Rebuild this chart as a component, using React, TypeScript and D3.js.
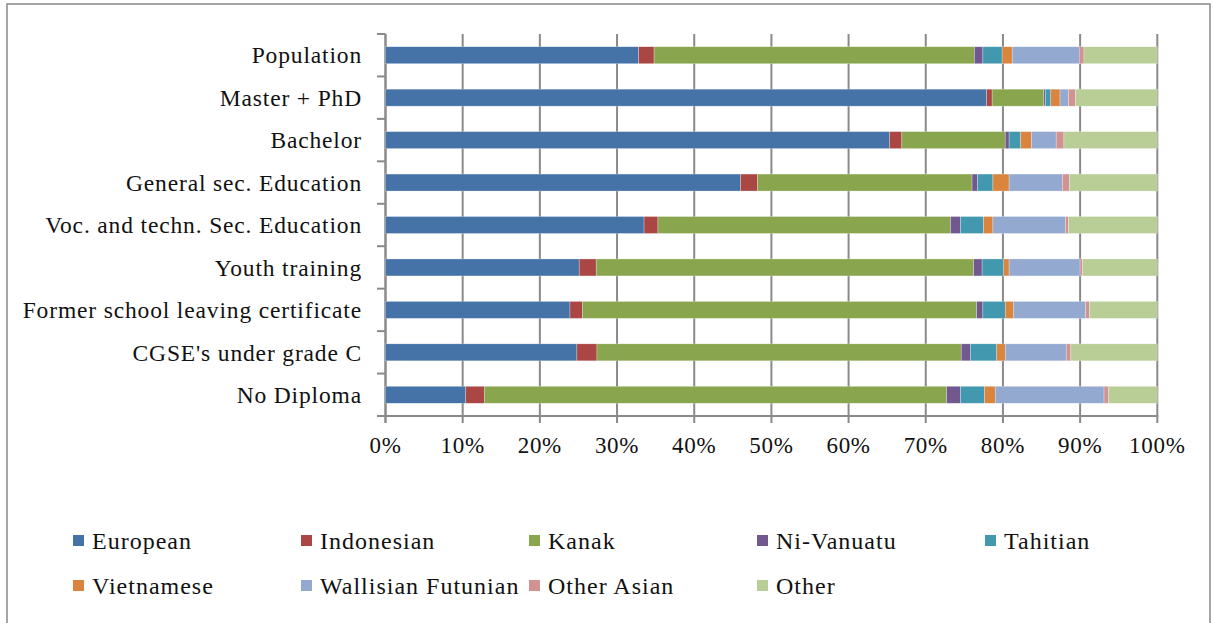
import React from "react";
import * as d3 from "d3";

const categories = [
  "Population",
  "Master + PhD",
  "Bachelor",
  "General sec. Education",
  "Voc. and techn. Sec. Education",
  "Youth training",
  "Former school leaving certificate",
  "CGSE's under grade C",
  "No Diploma",
];

const seriesNames = [
  "European",
  "Indonesian",
  "Kanak",
  "Ni-Vanuatu",
  "Tahitian",
  "Vietnamese",
  "Wallisian Futunian",
  "Other Asian",
  "Other",
];

const colors = [
  "#4572A7",
  "#AA4643",
  "#89A54E",
  "#71588F",
  "#4198AF",
  "#DB843D",
  "#93A9CF",
  "#D19392",
  "#B9CD96",
];

// values per category, in series order (percent)
const population = [32.8, 2.0, 41.5, 1.1, 2.5, 1.3, 8.7, 0.6, 9.5];
const masterPhd = [77.9, 0.7, 6.7, 0.2, 0.7, 1.2, 1.1, 0.9, 10.6];
const bachelor = [65.3, 1.6, 13.4, 0.5, 1.5, 1.4, 3.2, 1.0, 12.1];
const generalSec = [46.0, 2.2, 27.8, 0.7, 2.0, 2.1, 6.9, 0.9, 11.4];
const vocTechn = [33.5, 1.8, 37.9, 1.3, 3.0, 1.2, 9.4, 0.4, 11.5];
const youthTraining = [25.1, 2.2, 48.9, 1.1, 2.8, 0.7, 9.2, 0.3, 9.7];
const formerCert = [23.9, 1.6, 51.1, 0.8, 2.9, 1.1, 9.3, 0.5, 8.8];
const cgse = [24.8, 2.6, 47.2, 1.2, 3.4, 1.1, 7.9, 0.6, 11.2];
const noDiploma = [10.4, 2.4, 59.9, 1.8, 3.1, 1.4, 14.1, 0.6, 6.3];

const rows = [population, masterPhd, bachelor, generalSec, vocTechn, youthTraining, formerCert, cgse, noDiploma];

const xTicks = [0, 0.1, 0.2, 0.3, 0.4, 0.5, 0.6, 0.7, 0.8, 0.9, 1.0];

const FONT = "'Liberation Serif', 'Times New Roman', serif";
const GRID = "#8a8a8a";

export default function App() {
  const W = 1213;
  const H = 623;
  const x = d3.scaleLinear().domain([0, 1]).range([385.5, 1157.3]);
  const y = d3.scaleBand<string>().domain(categories).range([34, 416]).paddingInner(0.6).paddingOuter(0.3);
  const step = y.step();

  const table = categories.map((c, i) => {
    const o: Record<string, number | string> = { cat: c };
    const total = d3.sum(rows[i]);
    seriesNames.forEach((s, j) => (o[s] = rows[i][j] / total));
    return o;
  });
  const stack = d3.stack<any>().keys(seriesNames)(table);

  const bandEdges = d3.range(categories.length + 1).map((k) => 34 + k * step);

  const legendCols = [73, 301, 529, 757, 985];
  const legendRows = [541, 586];

  return (
    <svg
      width={W}
      height={H}
      style={{ position: "absolute", left: 0, top: 0, background: "#fff", fontFamily: FONT }}
    >
      <rect x={7} y={4} width={1203} height={640} fill="#fff" stroke="#888" strokeWidth={1.5} />
      {/* gridlines */}
      {xTicks.map((t) => (
        <line key={"g" + t} x1={x(t)} x2={x(t)} y1={34} y2={423} stroke={GRID} strokeWidth={2} />
      ))}
      {/* y axis */}
      <line x1={x(0)} x2={x(0)} y1={34} y2={423} stroke={GRID} strokeWidth={2} />
      {bandEdges.map((e, k) => (
        <line key={"yt" + k} x1={377} x2={x(0)} y1={e} y2={e} stroke={GRID} strokeWidth={2} />
      ))}
      {/* x axis */}
      <line x1={377} x2={x(1) + 1} y1={416} y2={416} stroke={GRID} strokeWidth={2} />
      {/* bars */}
      {stack.map((layer, j) => (
        <g key={seriesNames[j]} fill={colors[j]}>
          {layer.map((d, i) => (
            <rect
              key={i}
              x={x(d[0])}
              y={y(categories[i])!}
              width={Math.max(0, x(d[1]) - x(d[0]))}
              height={y.bandwidth()}
              stroke="#ffffff"
              strokeOpacity={0.45}
              strokeWidth={0.6}
            />
          ))}
        </g>
      ))}
      {/* category labels */}
      {categories.map((c) => (
        <text
          key={c}
          x={362}
          y={y(c)! + y.bandwidth() / 2}
          dy="0.35em"
          textAnchor="end"
          fontSize={23.5}
          letterSpacing={0.85}
          fill="#111"
        >
          {c}
        </text>
      ))}
      {/* x tick labels */}
      {xTicks.map((t) => (
        <text key={"xl" + t} x={x(t)} y={453} textAnchor="middle" fontSize={23} letterSpacing={0.7} fill="#111">
          {Math.round(t * 100) + "%"}
        </text>
      ))}
      {/* legend */}
      {seriesNames.map((s, j) => {
        const cx = legendCols[j % 5];
        const cy = legendRows[Math.floor(j / 5)];
        return (
          <g key={"lg" + s}>
            <rect x={cx} y={cy - 6} width={11} height={11} fill={colors[j]} />
            <text x={cx + 19} y={cy} dy="0.35em" fontSize={24} letterSpacing={1.0} fill="#111">
              {s}
            </text>
          </g>
        );
      })}
    </svg>
  );
}
